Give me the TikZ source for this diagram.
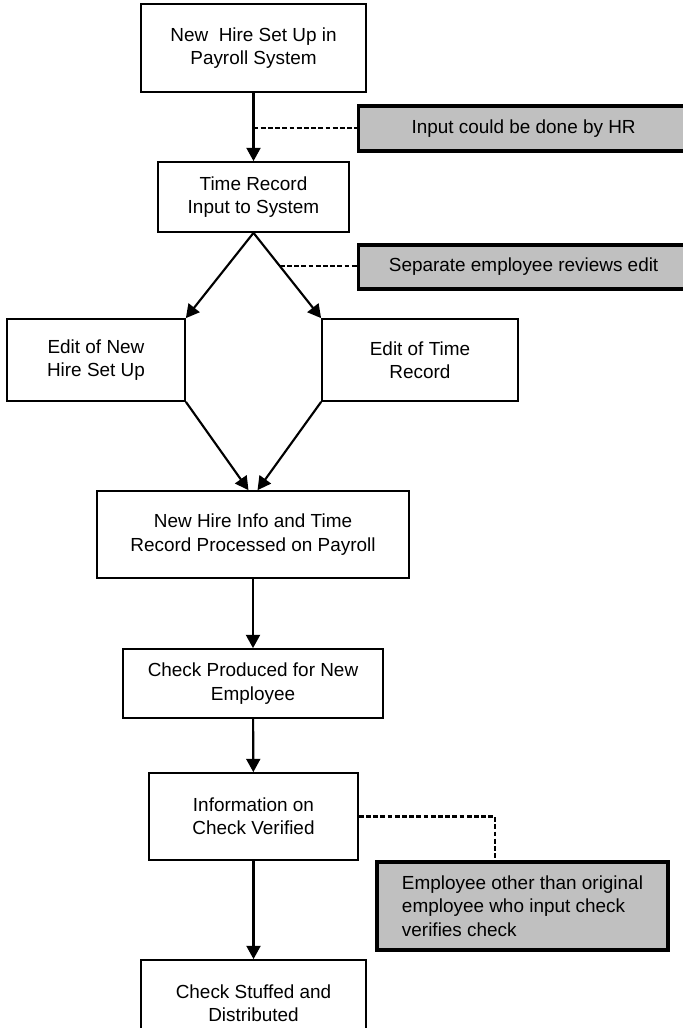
\documentclass[tikz,border=0pt]{standalone}
\usepackage{fontspec}
\setmainfont{Liberation Sans}
\usetikzlibrary{arrows.meta,calc}
\definecolor{notegray}{HTML}{C0C0C0}
\tikzset{
  box/.style={draw, line width=1.3pt, align=center, inner sep=0pt,
    font=\fontsize{14.2}{17.5}\selectfont},
  note/.style={box, line width=2.4pt, fill=notegray},
  flow/.style={-{Triangle[width=10.5pt,length=10pt]}, line width=1.6pt},
  link/.style={line width=1.7pt, dash pattern=on 3.6pt off 1.8pt}
}
\begin{document}
\begin{tikzpicture}[x=0.75pt,y=-0.75pt]
            \useasboundingbox (0,0) rectangle (682,1028);
            \node [box, minimum width=168.75pt, minimum height=66pt] (setup) at (253.5,48) {New\ \ Hire Set Up in\\Payroll System};
            \node [box, minimum width=143.25pt, minimum height=52.5pt] (input) at (253.5,197) {Time Record\\Input to System};
            \node [box, minimum width=133.5pt, minimum height=61.5pt] (edhire) at (96,360) {Edit of New\\Hire Set Up};
            \node [box, minimum width=147pt, minimum height=61.5pt] (edtime) at (420,360) {Edit of Time\\Record};
            \node [box, minimum width=234pt, minimum height=65.25pt] (proc) at (253,534.5) {New Hire Info and Time\\Record Processed on Payroll};
            \node [box, minimum width=195pt, minimum height=51.75pt] (check) at (253,683.5) {Check Produced for New\\Employee};
            \node [box, minimum width=156.75pt, minimum height=65.25pt] (verify) at (253.5,816.5) {Information on\\Check Verified};
            \node [box, minimum width=168.75pt, minimum height=65.25pt] (stuff) at (253.5,1003.5) {Check Stuffed and\\Distributed};
            \node [note, anchor=west, minimum width=247.5pt, minimum height=33.75pt] (hr) at (357,128.5) {Input could be done by HR};
            \node [note, anchor=west, minimum width=247.5pt, minimum height=33pt] (rev) at (357,267) {Separate employee reviews edit};
            \node [note, align=left, minimum width=218.25pt, minimum height=66pt] (other) at (522.5,906) {Employee other than original\\employee who input check\\verifies check};
            \draw [flow] (setup) -- (input);
            \draw [flow] (input.south) -- (edhire.north east);
            \draw [flow] (input.south) -- (edtime.north west);
            \draw [flow] (edhire.south east) -- ([xshift=-3.4pt]proc.north);
            \draw [flow] (edtime.south west) -- ([xshift=3.4pt]proc.north);
            \draw [flow] (proc) -- (check);
            \draw [flow] (check) -- (verify);
            \draw [flow] (verify) -- (stuff);
            \coordinate (j1) at ($(setup.south)!0.51!(input.north)$);
            \coordinate (j2) at ($(input.south)!0.39!(edtime.north west)$);
            \draw [link] (j1) -- (j1 -| hr.west);
            \draw [link] (j2) -- (j2 -| rev.west);
            \draw [link] (verify.east) -| ([xshift=-20.6pt]other.north);
        \end{tikzpicture}
\end{document}
